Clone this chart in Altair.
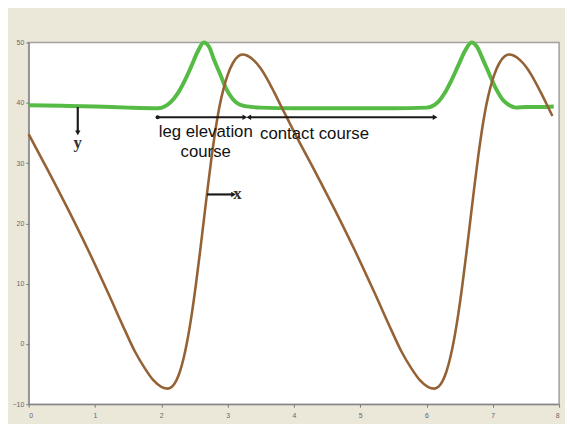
import altair as alt
import pandas as pd

# brown curve
brown_x = [0.00, 0.30, 0.60, 0.90, 1.20, 1.45, 1.60, 1.75, 1.88, 2.00, 2.10, 2.16, 2.22, 2.28, 2.34,
           2.40, 2.46, 2.52, 2.58, 2.64, 2.70, 2.76, 2.82, 2.88, 2.94, 3.00, 3.08, 3.16, 3.22, 3.30,
           3.40, 3.50, 3.60, 3.70, 3.80, 3.91, 4.02, 4.32, 4.62, 4.92, 5.22, 5.47, 5.62, 5.77, 5.90,
           6.02, 6.12, 6.18, 6.24, 6.30, 6.36, 6.42, 6.48, 6.54, 6.60, 6.66, 6.72, 6.78, 6.84, 6.90,
           6.96, 7.02, 7.10, 7.18, 7.24, 7.32, 7.42, 7.52, 7.62, 7.72, 7.82, 7.90]
brown_y = [34.8, 28.6, 22.2, 15.5, 8.4, 2.3, -1.2, -4.0, -6.0, -7.1, -7.4, -7.1, -6.2, -4.6, -2.2,
           1.0, 5.0, 9.7, 14.9, 20.4, 25.9, 31.1, 35.7, 39.5, 42.4, 44.6, 46.6, 47.7, 48.0, 47.8,
           47.0, 45.7, 43.9, 41.8, 39.6, 37.2, 34.8, 28.6, 22.2, 15.5, 8.4, 2.3, -1.2, -4.0, -6.0,
           -7.1, -7.4, -7.1, -6.2, -4.6, -2.2, 1.0, 5.0, 9.7, 14.9, 20.4, 25.9, 31.1, 35.7, 39.5,
           42.4, 44.6, 46.6, 47.7, 48.0, 47.8, 47.0, 45.7, 43.9, 41.8, 39.6, 37.8]

# green curve
green_x = [0.00, 0.50, 1.00, 1.50, 1.95, 2.05, 2.15, 2.25, 2.35, 2.45, 2.55, 2.64, 2.72, 2.80, 2.89,
           2.98, 3.08, 3.18, 3.29, 3.50, 4.00, 4.50, 5.00, 5.50, 6.00, 6.08, 6.18, 6.28, 6.38, 6.48,
           6.58, 6.68, 6.76, 6.85, 6.95, 7.05, 7.15, 7.25, 7.35, 7.50, 7.70, 7.92]
green_y = [39.6, 39.5, 39.4, 39.2, 39.1, 39.4, 40.2, 41.6, 43.6, 46.0, 48.5, 50.0, 49.3, 47.0, 44.7,
           42.3, 40.6, 39.7, 39.4, 39.2, 39.1, 39.1, 39.1, 39.1, 39.2, 39.4, 40.2, 41.7, 43.8, 46.2,
           48.6, 50.0, 49.3, 47.2, 44.7, 42.3, 40.5, 39.6, 39.2, 39.3, 39.3, 39.4]

x_ticks = [i * 0.5 for i in range(17)]
y_ticks = [-10, -5, 0, 5, 10, 15, 20, 25, 30, 35, 40, 45, 50]

# annotations
seg_x = [0.74, 2.69, 1.945, 3.33]
seg_x2 = [0.74, 3.07, 3.24, 6.11]
seg_y = [39.3, 24.8, 37.6, 37.6]
seg_y2 = [35.3, 24.8, 37.6, 37.6]

head_x = [0.74, 3.09, 3.26, 3.32, 6.13]
head_y = [35.0, 24.8, 37.6, 37.6, 37.6]
head_shape = ["triangle-down", "triangle-right", "triangle-right", "triangle-left", "triangle-right"]

label_text = ["leg elevation", "course", "contact course"]
label_x = [2.67, 2.67, 3.49]
label_y = [35.1, 31.8, 34.8]
label_align = ["center", "center", "left"]

serif_text = ["y", "x"]
serif_x = [0.74, 3.15]
serif_y = [33.4, 24.9]

brown_df = pd.DataFrame({"x": brown_x, "y": brown_y})
green_df = pd.DataFrame({"x": green_x, "y": green_y})
seg_df = pd.DataFrame({"x": seg_x, "x2": seg_x2, "y": seg_y, "y2": seg_y2})
head_df = pd.DataFrame({"x": head_x, "y": head_y, "shape": head_shape})
lab_df = pd.DataFrame({"x": label_x, "y": label_y, "t": label_text, "a": label_align})
serif_df = pd.DataFrame({"x": serif_x, "y": serif_y, "t": serif_text})

xs = alt.Scale(domain=[0, 8], nice=False, zero=False)
ys = alt.Scale(domain=[-10, 50], nice=False, zero=False)

xaxis = alt.Axis(values=x_ticks, labelExpr="datum.value % 1 == 0 ? datum.label : ''",
                 title=None, grid=False, tickSize=3, labelPadding=4, labelFontSize=7,
                 labelColor="#666666", domainColor="#7a7a7a", tickColor="#7a7a7a", format="d")
yaxis = alt.Axis(values=y_ticks, labelExpr="datum.value % 10 == 0 ? datum.label : ''",
                 title=None, grid=False, tickSize=3, labelPadding=2, labelFontSize=7,
                 labelColor="#666666", domainColor="#7a7a7a", tickColor="#7a7a7a", format="d")

brown = alt.Chart(brown_df).mark_line(color="#956236", strokeWidth=2.6, interpolate="monotone").encode(
    x=alt.X("x:Q", scale=xs, axis=xaxis),
    y=alt.Y("y:Q", scale=ys, axis=yaxis),
    order="x:Q",
)
green = alt.Chart(green_df).mark_line(color="#55bb44", strokeWidth=4, interpolate="monotone").encode(
    x=alt.X("x:Q", scale=xs), y=alt.Y("y:Q", scale=ys), order="x:Q"
)
segs = alt.Chart(seg_df).mark_rule(color="#1a1a1a", strokeWidth=2.2).encode(
    x=alt.X("x:Q", scale=xs), x2="x2:Q", y=alt.Y("y:Q", scale=ys), y2="y2:Q"
)
heads = alt.Chart(head_df).mark_point(filled=True, color="#1a1a1a", size=30, opacity=1).encode(
    x=alt.X("x:Q", scale=xs), y=alt.Y("y:Q", scale=ys),
    shape=alt.Shape("shape:N", scale=None, legend=None),
)
dot_df = pd.DataFrame({"x": [1.945], "y": [37.6]})
dots = alt.Chart(dot_df).mark_circle(color="#1a1a1a", size=18, opacity=1).encode(
    x=alt.X("x:Q", scale=xs), y=alt.Y("y:Q", scale=ys)
)
labs_c = alt.Chart(lab_df[lab_df.a == "center"]).mark_text(
    font="Liberation Sans", fontSize=17, color="#111111", align="center", baseline="middle"
).encode(x=alt.X("x:Q", scale=xs), y=alt.Y("y:Q", scale=ys), text="t:N")
labs_l = alt.Chart(lab_df[lab_df.a == "left"]).mark_text(
    font="Liberation Sans", fontSize=17, color="#111111", align="left", baseline="middle"
).encode(x=alt.X("x:Q", scale=xs), y=alt.Y("y:Q", scale=ys), text="t:N")
serif = alt.Chart(serif_df).mark_text(
    font="Liberation Serif", fontSize=17, fontWeight="bold", color="#333333", align="center", baseline="middle"
).encode(x=alt.X("x:Q", scale=xs), y=alt.Y("y:Q", scale=ys), text="t:N")

chart = alt.layer(green, brown, segs, heads, dots, labs_c, labs_l, serif).properties(
    width=538, height=367,
    autosize=alt.AutoSizeParams(type="none"),
    padding={"left": 21, "top": 32, "right": 6, "bottom": 17},
    background="#ebe8da",
).configure_view(stroke="#a0a0a0", strokeWidth=1.5, fill="white")

chart.save("out.html", embed_options={"renderer": "svg", "actions": False})
